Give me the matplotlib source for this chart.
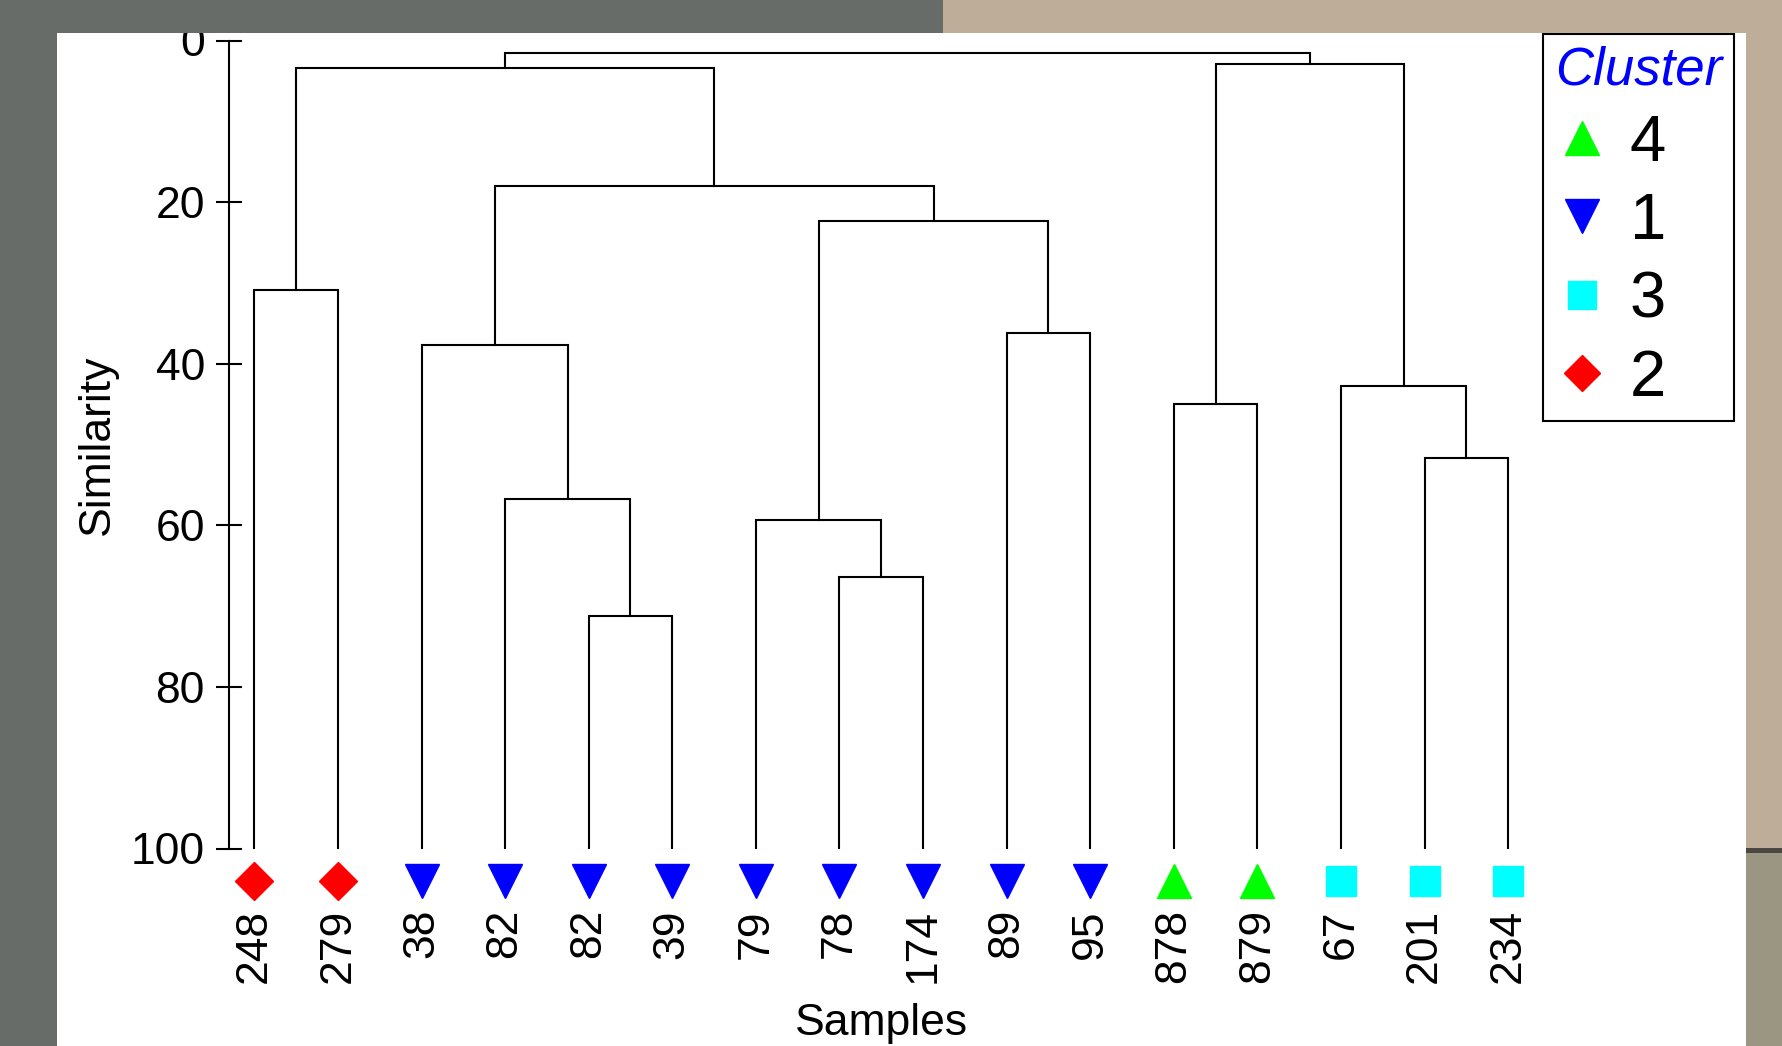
import numpy as np
import matplotlib
matplotlib.use('Agg')
import matplotlib.pyplot as plt
from matplotlib.lines import Line2D
from matplotlib.patches import Rectangle

plt.rcParams['font.family'] = ['Liberation Sans', 'DejaVu Sans']

# samples in dendrogram order and the cluster each one belongs to
samples = ['248', '279', '38', '82', '82', '39', '79', '78', '174', '89', '95',
           '878', '879', '67', '201', '234']
sample_cluster = [2, 2, 1, 1, 1, 1, 1, 1, 1, 1, 1, 4, 4, 3, 3, 3]

# merges: left node, right node, similarity level (nodes >= 16 are earlier merges)
merge_left = [4, 3, 2, 7, 6, 9, 20, 18, 0, 24, 11, 14, 13, 26, 25]
merge_right = [5, 16, 17, 8, 19, 10, 21, 22, 1, 23, 12, 15, 27, 28, 29]
merge_height = [71.2, 56.8, 37.7, 66.4, 59.4, 36.2, 22.3, 18.0, 30.9, 3.4,
                45.0, 51.7, 42.8, 2.9, 1.6]

# legend order
cluster_ids = [4, 1, 3, 2]
y_ticks = [0, 20, 40, 60, 80, 100]

cluster_marker = {4: '^', 1: 'v', 3: 's', 2: 'D'}
cluster_color = {4: '#00ff00', 1: '#0000ff', 3: '#00ffff', 2: '#ff0000'}
cluster_size = {4: 25, 1: 25, 3: 21, 2: 19}

W, H = 1782, 1046
fig = plt.figure(figsize=(W / 100, H / 100), dpi=100, facecolor='#676c68')

# photo-ish backdrop around the white panel
def backdrop(x, y, w, h, col, z=-10):
    fig.add_artist(Rectangle((x / W, 1 - (y + h) / H), w / W, h / H,
                             color=col, lw=0, zorder=z))

backdrop(57, 33, 1746 - 57, H - 33, 'white')
backdrop(1746, 0, W - 1746, 848, '#bead98')
backdrop(1746, 848, W - 1746, 5, '#4a4642')
backdrop(1746, 853, W - 1746, H - 853, '#9b9682')
# top strip sits over the panel edge and hides the top of the "0"
backdrop(0, 0, 943, 33, '#676c68', z=10)
backdrop(943, 0, W - 943, 33, '#bead98', z=10)

ax = fig.add_axes([229 / W, 1 - 848.5 / H, (1550 - 229) / W, 808 / H])
ax.patch.set_alpha(0)

# dendrogram
node_x = list(range(len(samples)))
node_y = [100.0] * len(samples)
for l, r, h in zip(merge_left, merge_right, merge_height):
    ax.plot([node_x[l], node_x[l], node_x[r], node_x[r]],
            [node_y[l], h, h, node_y[r]], color='black', lw=1.5,
            solid_joinstyle='miter')
    node_x.append((node_x[l] + node_x[r]) / 2)
    node_y.append(h)

# leaf markers and labels
for i, (lab, c) in enumerate(zip(samples, sample_cluster)):
    ax.plot(i, 104, marker=cluster_marker[c], color=cluster_color[c],
            markersize=cluster_size[c], linestyle='none', clip_on=False)
    ax.text(i, 107.5, lab, rotation=90, ha='center', va='top', fontsize=32)

ax.text(np.mean(range(len(samples))), 123.1, 'Samples', ha='center',
        va='baseline', fontsize=32)

ax.set_xlim(-0.303, 15.5)
ax.set_ylim(100, 0)
ax.set_xticks([])
ax.set_yticks(y_ticks)
ax.tick_params(axis='y', direction='inout', length=18.7, width=1.5,
               labelsize=32, pad=8)
for s in ['top', 'right', 'bottom']:
    ax.spines[s].set_visible(False)
ax.spines['left'].set_bounds(0, 100)
ax.spines['left'].set_linewidth(1.5)
ax.set_ylabel('Similarity', fontsize=32, labelpad=9)

handles = [Line2D([], [], marker=cluster_marker[c], color=cluster_color[c],
                  markersize=cluster_size[c] - 1, linestyle='none')
           for c in cluster_ids]
leg = ax.legend(handles, [str(c) for c in cluster_ids], loc='upper left',
                bbox_to_anchor=(1543 / W, 1 - 34 / H),
                bbox_transform=fig.transFigure, title='Cluster', fontsize=47,
                title_fontsize=38, fancybox=False, edgecolor='black',
                framealpha=1, borderpad=0.18, handlelength=0.85,
                handletextpad=0.3, labelspacing=0.28, alignment='left',
                borderaxespad=0)
leg.get_frame().set_linewidth(1.5)
leg.get_title().set_color('#0000ff')
leg.get_title().set_fontstyle('italic')

fig.savefig('out.png', dpi=100, facecolor=fig.get_facecolor())
